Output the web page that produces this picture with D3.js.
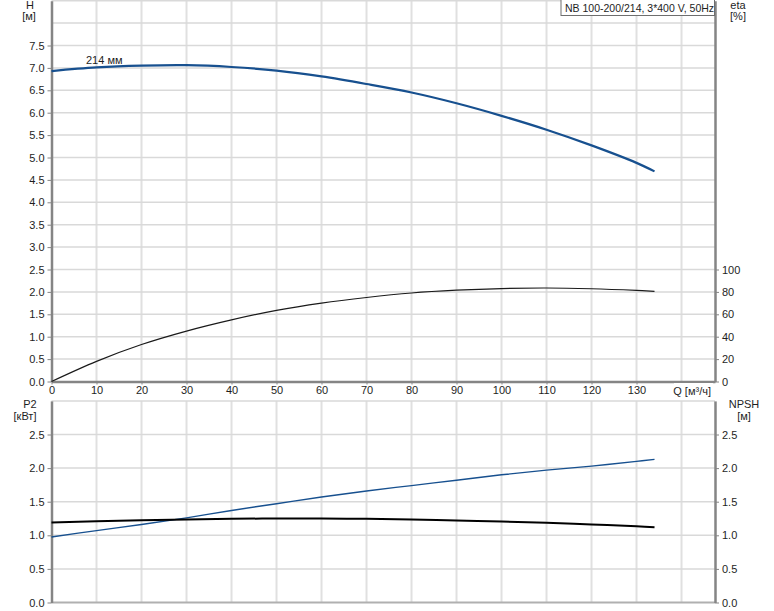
<!DOCTYPE html>
<html><head><meta charset="utf-8">
<script src="https://cdn.jsdelivr.net/npm/d3@7"></script>
<style>
body{margin:0;background:#fff;}
svg{display:block;font-family:"Liberation Sans",Arial,sans-serif;}
</style></head>
<body><svg id="c" width="774" height="611"></svg>
<script>
// ---- data ----
const flowQ = [0,10,20,30,40,50,60,70,80,90,100,110,120,130,134];
const headH = [6.93,7.01,7.05,7.06,7.02,6.94,6.81,6.64,6.45,6.21,5.93,5.62,5.27,4.88,4.69];
const etaPct = [0,18,33,45,55,63.5,70,75,79,81.5,83,83.5,82.8,81.3,80.5];
const powerP2 = [1.19,1.21,1.225,1.235,1.245,1.25,1.25,1.245,1.235,1.22,1.205,1.185,1.16,1.135,1.12];
const npshM = [0.975,1.07,1.16,1.26,1.37,1.47,1.57,1.66,1.74,1.82,1.90,1.97,2.03,2.10,2.13];
const qTicks = [0,10,20,30,40,50,60,70,80,90,100,110,120,130];
const qGrid = [10,20,30,40,50,60,70,80,90,100,110,120,130,140];
const hTicks = [0,0.5,1,1.5,2,2.5,3,3.5,4,4.5,5,5.5,6,6.5,7,7.5];
const hGrid = [0.5,1,1.5,2,2.5,3,3.5,4,4.5,5,5.5,6,6.5,7,7.5,8,8.5];
const etaTicks = [0,20,40,60,80,100];
const lowTicks = [0,0.5,1,1.5,2,2.5];
const lowGrid = [0.5,1,1.5,2,2.5,3];
const titleText = "NB 100-200/214, 3*400 V, 50Hz";
const curveLabel = "214 мм";

const svg = d3.select("#c");
const L = 51.5, R = 715;
const x = d3.scaleLinear().domain([0,147.44]).range([L,R]);
const yH = d3.scaleLinear().domain([0,8.5]).range([381.5,0.7]);
const yEta = d3.scaleLinear().domain([0,340]).range([381.5,0.7]);
const yLow = d3.scaleLinear().domain([0,3]).range([602.5,400.9]);

const gridCol = "#d9d9d9", axisCol = "#858585", txtCol = "#1e1e1e";
const blue = "#17508f";

function grid(yScale, ys, yTop, yBot){
  const g = svg.append("g");
  g.selectAll("line.v").data(qGrid).join("line")
    .attr("x1",d=>x(d)).attr("x2",d=>x(d)).attr("y1",yTop).attr("y2",yBot)
    .attr("stroke","#e0e0e0").attr("stroke-width",2);
  g.selectAll("line.h").data(ys).join("line")
    .attr("x1",L).attr("x2",R).attr("y1",d=>yScale(d)).attr("y2",d=>yScale(d))
    .attr("stroke",gridCol).attr("stroke-width",1.5);
}
grid(yH, hGrid, 0, 381.5);
grid(yLow, lowGrid, 400.9, 602.5);

// bottom line of lower plot
svg.append("line").attr("x1",L).attr("x2",R).attr("y1",602.5).attr("y2",602.5)
  .attr("stroke","#b0b0b0").attr("stroke-width",2);

function styleAxis(g){
  g.select(".domain").attr("stroke",axisCol).attr("stroke-width",2.5);
  g.selectAll(".tick line").attr("stroke",axisCol).attr("stroke-width",1);
  g.selectAll(".tick text").attr("fill",txtCol).attr("font-size",11)
    .attr("font-family","'Liberation Sans',Arial,sans-serif");
}
const fmt1 = d3.format(".1f");

svg.append("g").attr("transform",`translate(${L},0)`)
  .call(d3.axisLeft(yH).tickValues(hTicks).tickFormat(fmt1).tickSize(4).tickSizeOuter(0).tickPadding(3))
  .call(styleAxis);
svg.append("g").attr("transform",`translate(${R},0)`)
  .call(d3.axisRight(yEta).tickValues(etaTicks).tickFormat(d3.format("d")).tickSize(4).tickSizeOuter(0).tickPadding(3))
  .call(styleAxis);
svg.append("g").attr("transform",`translate(0,381.5)`)
  .call(d3.axisBottom(x).tickValues(qTicks).tickFormat(d3.format("d")).tickSize(3).tickSizeOuter(0).tickPadding(2))
  .call(styleAxis);

svg.append("g").attr("transform",`translate(${L},0)`)
  .call(d3.axisLeft(yLow).tickValues(lowTicks).tickFormat(fmt1).tickSize(4).tickSizeOuter(0).tickPadding(3))
  .call(styleAxis);
svg.append("g").attr("transform",`translate(${R},0)`)
  .call(d3.axisRight(yLow).tickValues(lowTicks).tickFormat(fmt1).tickSize(4).tickSizeOuter(0).tickPadding(3))
  .call(styleAxis);

function txt(t, xx, yy, anchor, fs){
  svg.append("text").attr("x",xx).attr("y",yy).attr("text-anchor",anchor||"middle")
    .attr("font-size",fs||11).attr("fill",txtCol).text(t);
}
txt("H",30,9); txt("[м]",29,20);
txt("eta",738,9); txt("[%]",738,20);
txt("P2",30,408); txt("[кВт]",25,420);
txt("NPSH",744,408); txt("[м]",744,420);
svg.append("rect").attr("x",674).attr("y",383).attr("width",39).attr("height",14).attr("fill","#fff");
txt("Q [м³/ч]",711,395,"end");

svg.append("rect").attr("x",561).attr("y",-1).attr("width",153.5).attr("height",16.5)
  .attr("fill","#fff").attr("stroke","#6e6e6e").attr("stroke-width",1);
txt(titleText,565,12,"start",10.5);

const line = (ys, yScale) => d3.line().curve(d3.curveCatmullRom.alpha(0.5))
  .x((d,i)=>x(flowQ[i])).y((d,i)=>yScale(ys[i]))(ys);

svg.append("path").attr("d",line(etaPct,yEta)).attr("fill","none").attr("stroke","#1a1a1a").attr("stroke-width",1.2);
svg.append("path").attr("d",line(headH,yH)).attr("fill","none").attr("stroke",blue).attr("stroke-width",2.2);
svg.append("path").attr("d",line(npshM,yLow)).attr("fill","none").attr("stroke",blue).attr("stroke-width",1.4);
svg.append("path").attr("d",line(powerP2,yLow)).attr("fill","none").attr("stroke","#000").attr("stroke-width",2);

txt(curveLabel,86,64,"start");
</script></body></html>
